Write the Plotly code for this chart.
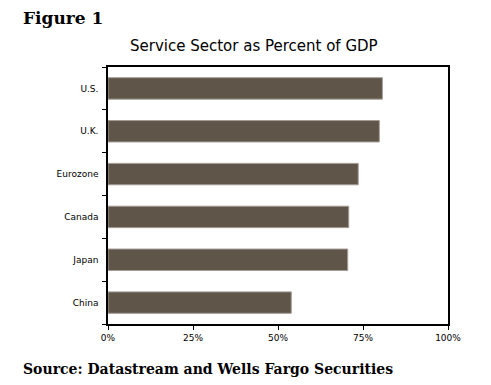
import plotly.graph_objects as go

countries = ["U.S.", "U.K.", "Eurozone", "Canada", "Japan", "China"]
service_share = [80.7, 79.8, 73.6, 70.8, 70.5, 53.9]
x_ticks = [0, 25, 50, 75, 100]
x_tick_labels = ["0%", "25%", "50%", "75%", "100%"]

# page has an 8px body margin, so the figure is 8px smaller and everything offset
W, H = 483, 377
L, R, T, B = 100, 43, 59, 61
pw, ph = W - L - R, H - T - B

def px_x(px):
    return (px - L) / pw

def px_y(py):
    return (H - B - py) / ph

fig = go.Figure(go.Bar(
    y=countries, x=service_share, orientation="h",
    marker=dict(color="#5f5549", line=dict(color="#a39b94", width=1)),
    width=0.5,
))

axis_common = dict(showline=True, linecolor="black", linewidth=1.5, mirror=True,
                   ticks="outside", ticklen=4, tickcolor="black", showgrid=False,
                   zeroline=False, tickfont=dict(family="DejaVu Sans", size=9, color="black"))

fig.update_layout(
    width=W, height=H,
    margin=dict(l=L, r=R, t=T, b=B),
    paper_bgcolor="white", plot_bgcolor="white",
    showlegend=False,
    xaxis=dict(range=[0, 100], tickvals=x_ticks, ticktext=x_tick_labels, **axis_common),
    yaxis=dict(categoryorder="array", categoryarray=countries[::-1],
               tickson="boundaries", ticklabelstandoff=6, **axis_common),
    annotations=[
        dict(text="<b>Figure 1</b>", x=px_x(13), y=px_y(-2), xref="paper", yref="paper",
             xanchor="left", yanchor="top", showarrow=False,
             font=dict(family="DejaVu Sans", size=17, color="black") | dict(family="DejaVu Serif")),
        dict(text="Service Sector as Percent of GDP", x=px_x(246), y=1,
             xref="paper", yref="paper", xanchor="center", yanchor="bottom", yshift=10,
             showarrow=False, font=dict(family="DejaVu Sans", size=15, color="black")),
        dict(text="<b>Source: Datastream and Wells Fargo Securities</b>", x=px_x(13),
             y=px_y(H - 6), xref="paper", yref="paper", xanchor="left", yanchor="bottom",
             showarrow=False, font=dict(family="DejaVu Serif", size=14, color="black")),
    ],
)

fig.write_html("out.html")
